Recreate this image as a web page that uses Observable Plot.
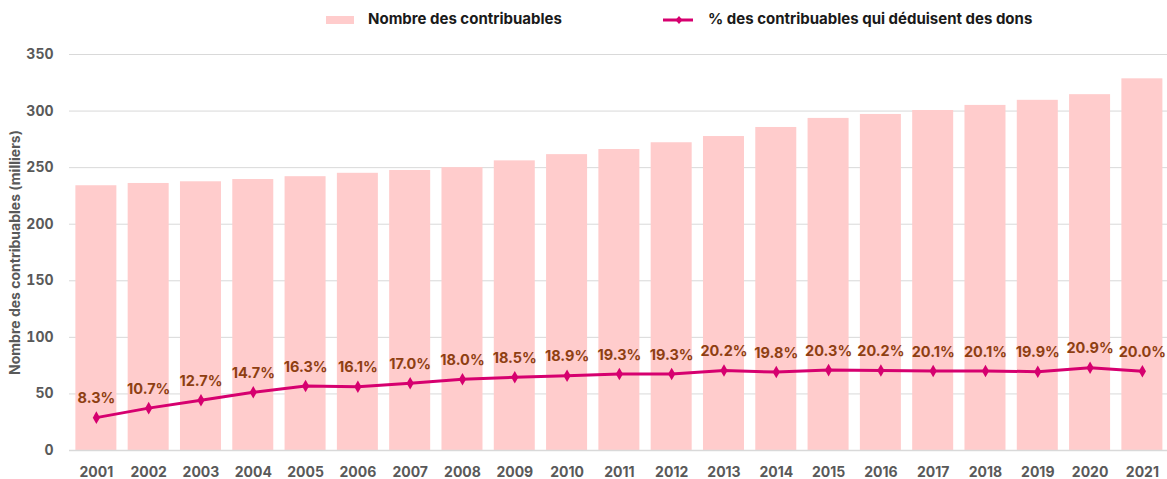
<!DOCTYPE html>
<html>
<head>
<meta charset="utf-8">
<script src="https://cdn.jsdelivr.net/npm/d3@7"></script>
<script src="https://cdn.jsdelivr.net/npm/@observablehq/plot@0.6"></script>
<style>
  html, body { margin: 0; padding: 0; background: #fff; }
  body { width: 1167px; height: 479px; overflow: hidden; font-family: Inter, "Noto Sans", sans-serif; }
  #legend { position: relative; height: 38px; width: 1167px; }
  .lg-item { position: absolute; top: 10px; font-size: 15px; font-weight: 700; color: #1a1a1a; line-height: 18px; white-space: nowrap; }
  .swatch { position: absolute; }
</style>
</head>
<body>
<div id="legend"></div>
<div id="chart"></div>
<script>
const years = ["2001","2002","2003","2004","2005","2006","2007","2008","2009","2010","2011","2012","2013","2014","2015","2016","2017","2018","2019","2020","2021"];
const contribuables = [234, 236, 237.5, 239.5, 242, 245, 247.5, 250, 256, 261.5, 266, 272, 277.5, 285.5, 293.5, 297, 300.5, 305, 309.5, 314.5, 328.5];
const pourcentages = [8.3, 10.7, 12.7, 14.7, 16.3, 16.1, 17.0, 18.0, 18.5, 18.9, 19.3, 19.3, 20.2, 19.8, 20.3, 20.2, 20.1, 20.1, 19.9, 20.9, 20.0];
const yTicks = [0, 50, 100, 150, 200, 250, 300, 350];
const seriesNames = ["Nombre des contribuables", "% des contribuables qui déduisent des dons"];
const yLabel = "Nombre des contribuables (milliers)";

const barColor = "#FFCCCC";
const lineColor = "#D6006F";
const labelColor = "#8E3F12";
const tickColor = "#595959";
// secondary axis: 0–100 % mapped onto 0–350 of the primary axis
const pctFactor = 350 / 100;

const data = years.map((y, i) => ({year: y, n: contribuables[i], pct: pourcentages[i], yp: pourcentages[i] * pctFactor}));

// Legend (HTML, above the SVG)
const legend = document.getElementById("legend");
legend.innerHTML = `
  <div class="swatch" style="left:326px;top:16px;width:28px;height:8px;background:${barColor}"></div>
  <div class="lg-item" style="left:368px">${seriesNames[0]}</div>
  <svg class="swatch" style="left:661px;top:12px" width="34" height="16">
    <line x1="2" y1="8" x2="32" y2="8" stroke="${lineColor}" stroke-width="3"/>
    <path d="M18,4 L21.5,8 L18,12 L14.5,8 Z" fill="${lineColor}"/>
  </svg>
  <div class="lg-item" style="left:708px">${seriesNames[1]}</div>
`;

const chart = Plot.plot({
  width: 1167,
  height: 441,
  marginTop: 16,
  marginBottom: 29,
  marginLeft: 69,
  marginRight: 0,
  style: {fontFamily: "Inter, 'Noto Sans', sans-serif", background: "#fff"},
  x: {type: "band", domain: years, paddingInner: 0.216, paddingOuter: 0.105, align: 0.58, round: false, label: null},
  y: {domain: [0, 350], label: null},
  marks: [
    Plot.ruleY(yTicks, {stroke: "#D9D9D9", strokeWidth: 1}),
    Plot.barY(data, {x: "year", y: "n", fill: barColor}),
    Plot.ruleY([0], {stroke: "#D9D9D9", strokeWidth: 1.5}),
    Plot.axisX({tickSize: 0, tickPadding: 17, fontSize: 14, fontWeight: 700, fill: tickColor, label: null}),
    Plot.axisY({ticks: yTicks, tickSize: 0, tickPadding: 16, fontSize: 14, fontWeight: 700, fill: tickColor, label: null}),
    Plot.text([yLabel], {frameAnchor: "left", textAnchor: "middle", lineAnchor: "middle", rotate: -90, dx: -54, fontSize: 14, fontWeight: 700, fill: tickColor}),
    Plot.line(data, {x: "year", y: "yp", stroke: lineColor, strokeWidth: 3, curve: "linear"}),
    Plot.dot(data, {x: "year", y: "yp", symbol: "diamond", r: 3.8, fill: lineColor, stroke: "none"}),
    Plot.text(data, {x: "year", y: "yp", text: d => d.pct.toFixed(1) + "%", dy: -19, fontSize: 14.5, fontWeight: 700, fill: labelColor})
  ]
});
document.getElementById("chart").appendChild(chart);
</script>
</body>
</html>
